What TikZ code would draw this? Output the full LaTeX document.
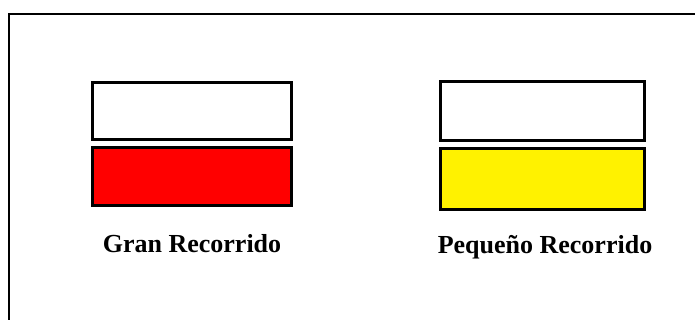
\documentclass[tikz,border=0pt]{standalone}
\usepackage{fontspec}
\setmainfont{Liberation Serif}
\begin{document}
\begin{tikzpicture}[x=1pt,y=-1pt,
  bar/.style={draw=black,line width=3pt,inner sep=0pt,outer sep=0pt},
  label/.style={font=\fontsize{26}{30}\selectfont\bfseries,anchor=base,inner sep=0pt}]
\useasboundingbox (0,0) rectangle (695,320);
\begin{scope}
\clip (0,0) rectangle (695,320);
\draw[line width=2pt] (9,14) rectangle (720,340);
\end{scope}
\node[bar,fill=white,minimum width=199pt,minimum height=57pt] (gw) at (191.5,111.5) {};
\node[bar,fill=red,minimum width=199pt,minimum height=58pt] (gr) at (191.5,177) {};
\node[bar,fill=white,minimum width=204pt,minimum height=59pt] (pw) at (542,111.5) {};
\node[bar,fill=yellow,minimum width=204pt,minimum height=61pt] (py) at (542,179.5) {};
\node[label] (gt) at (192,252) {Gran Recorrido};
\node[label] (pt) at (545,253) {Pequeño Recorrido};
\end{tikzpicture}
\end{document}
